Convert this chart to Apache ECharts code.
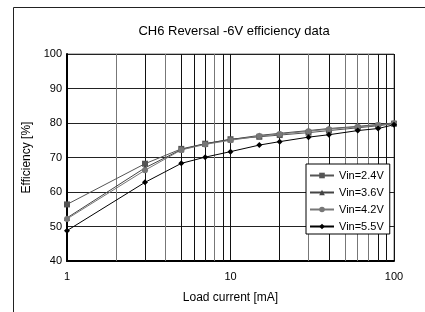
<!DOCTYPE html>
<html>
<head>
<meta charset="utf-8">
<script src="https://cdn.jsdelivr.net/npm/echarts@6/dist/echarts.min.js"></script>
<style>
  html, body { margin: 0; padding: 0; background: #fff; }
  #mainChart { width: 425px; height: 312px; }
</style>
</head>
<body>
<div id="mainChart"></div>
<script>
// load current [mA]
var loadCurrent = [1, 3, 5, 7, 10, 15, 20, 30, 40, 60, 80, 100];

// efficiency [%] per input voltage
var vin24 = [56.4, 68.2, 72.5, 74.0, 75.3, 76.0, 76.5, 77.2, 77.8, 78.6, 79.2, 79.8];
var vin36 = [52.5, 67.0, 72.3, 74.0, 75.2, 76.4, 77.0, 77.8, 78.4, 79.0, 79.6, 80.0];
var vin42 = [52.2, 66.3, 72.2, 73.8, 75.0, 76.2, 76.8, 77.6, 78.2, 78.9, 79.4, 79.9];
var vin55 = [48.8, 62.8, 68.3, 70.1, 71.7, 73.6, 74.6, 75.9, 76.6, 77.8, 78.4, 79.5];

var seriesNames = ['Vin=2.4V', 'Vin=3.6V', 'Vin=4.2V', 'Vin=5.5V'];

// minor log grid lines (drawn via markLine on the x axis)
var minorDark = [3, 5, 6, 7, 9, 20, 40, 80, 90];
var minorLight = [2, 4, 8, 30, 50, 60, 70];

function pairs(ys) {
  return loadCurrent.map(function (x, i) { return [x, ys[i]]; });
}

function vLines(xs) {
  return xs.map(function (x) { return { xAxis: x }; });
}

var myChart = echarts.init(document.getElementById('mainChart'));

function lineSeries(name, ys, color, symbol, size) {
  return {
    name: name,
    type: 'line',
    data: pairs(ys),
    z: 3,
    symbol: symbol,
    symbolSize: size,
    showSymbol: true,
    color: color,
    lineStyle: { color: color, width: 1 },
    itemStyle: { color: color }
  };
}

function gridSeries(name, xs, color) {
  return {
    name: name,
    type: 'line',
    data: [],
    z: 1,
    silent: true,
    markLine: {
      z: 1,
      silent: true,
      symbol: ['none', 'none'],
      label: { show: false },
      lineStyle: { color: color, width: 1, type: 'solid' },
      emphasis: { disabled: true },
      data: vLines(xs)
    }
  };
}

myChart.setOption({
  backgroundColor: '#fff',
  animation: false,
  title: {
    text: 'CH6 Reversal -6V efficiency data',
    left: 229,
    textAlign: 'center',
    top: 20,
    textStyle: { fontFamily: 'Liberation Sans', fontSize: 13, fontWeight: 'normal', color: '#000' }
  },
  graphic: [{
    type: 'rect',
    shape: { x: 13.5, y: 7.5, width: 600, height: 500 },
    style: { fill: null, stroke: '#222', lineWidth: 1 },
    silent: true
  }],
  grid: {
    left: 67, top: 54, right: 31, bottom: 51,
    show: true, borderColor: '#777', borderWidth: 1, backgroundColor: '#fff'
  },
  legend: {
    data: seriesNames,
    orient: 'vertical',
    left: 306,
    top: 164,
    z: 10,
    backgroundColor: '#fff',
    borderColor: '#000',
    borderWidth: 1,
    padding: [6, 6, 2, 3],
    itemGap: 6,
    itemWidth: 24,
    itemHeight: 7,
    textStyle: { fontFamily: 'Liberation Sans', fontSize: 11, color: '#000' }
  },
  xAxis: {
    type: 'log',
    logBase: 10,
    min: 1,
    max: 100,
    name: 'Load current [mA]',
    nameLocation: 'middle',
    nameGap: 31,
    nameTextStyle: { fontFamily: 'Liberation Sans', fontSize: 12, color: '#000' },
    axisLine: { show: true, lineStyle: { color: '#000', width: 2 } },
    axisTick: { show: false },
    axisLabel: { fontFamily: 'Liberation Sans', fontSize: 11, color: '#000', margin: 10 },
    splitLine: { show: true, lineStyle: { color: '#111', width: 1 } }
  },
  yAxis: {
    type: 'value',
    min: 40,
    max: 100,
    interval: 10,
    name: 'Efficiency [%]',
    nameLocation: 'middle',
    nameGap: 29,
    nameTextStyle: { fontFamily: 'Liberation Sans', fontSize: 12, color: '#000' },
    axisLine: { show: true, lineStyle: { color: '#000', width: 2 } },
    axisTick: { show: false },
    axisLabel: { fontFamily: 'Liberation Sans', fontSize: 11, color: '#000', margin: 5 },
    splitLine: { show: true, lineStyle: { color: '#222', width: 1 } }
  },
  series: [
    gridSeries('minorDark', minorDark, '#111'),
    gridSeries('minorLight', minorLight, '#777'),
    lineSeries(seriesNames[0], vin24, '#555', 'rect', 6),
    lineSeries(seriesNames[1], vin36, '#444', 'triangle', 6),
    lineSeries(seriesNames[2], vin42, '#777', 'circle', 6),
    lineSeries(seriesNames[3], vin55, '#000', 'diamond', 6)
  ]
});
</script>
</body>
</html>
